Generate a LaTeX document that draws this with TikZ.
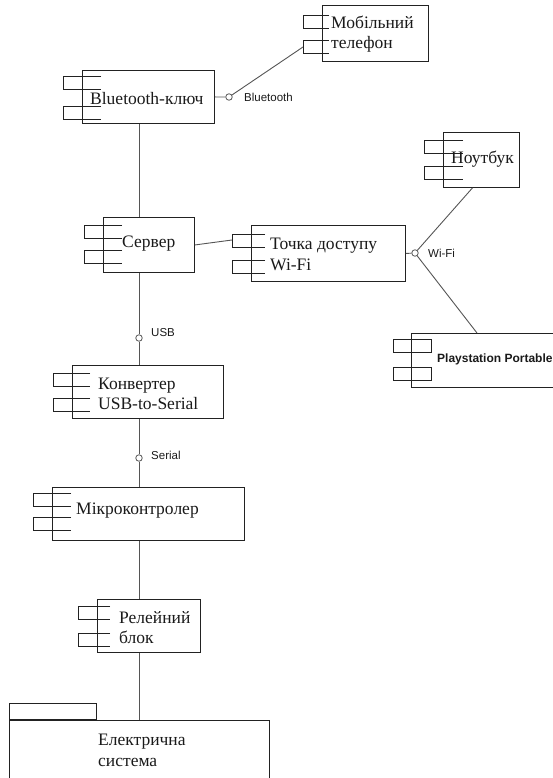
\documentclass[tikz,border=0pt]{standalone}
\usepackage{fontspec}
\setmainfont{Liberation Serif}
\newfontfamily\labelfont{Liberation Sans}
\usetikzlibrary{calc}

\definecolor{edge}{HTML}{222222}
\definecolor{wirecol}{HTML}{555555}
\definecolor{ink}{HTML}{1A1A1A}

\tikzset{
  box/.style={draw=edge, line width=0.9pt, fill=white, rectangle, inner sep=0pt, anchor=north west},
  tabline/.style={draw=edge, line width=0.9pt},
  wire/.style={draw=wirecol, line width=0.9pt},
  iface/.style={circle, draw=wirecol, line width=0.8pt, fill=white, minimum size=6.5pt, inner sep=0pt},
  ctext/.style={text=ink, anchor=west, align=left, inner sep=0pt, font=\fontsize{17.5}{20.5}\selectfont},
  lbl/.style={text=ink, anchor=west, inner sep=0pt, font=\labelfont\fontsize{11.5}{13}\selectfont},
}

% open component tabs: #1 node, #2 reach into the box, #3/#4 tab offsets from the top
\newcommand\comptabs[4]{%
  \draw[tabline] ($(#1.north west)+(#2,#3)$) -| ++({-19-#2},13) -- ++({19+#2},0);
  \draw[tabline] ($(#1.north west)+(#2,#4)$) -| ++({-19-#2},13) -- ++({19+#2},0);
}

\begin{document}
\begin{tikzpicture}[x=1pt, y=-1pt]
\useasboundingbox (0,0) rectangle (552,778);

% components
\node[box, minimum width=106, minimum height=56] (mob) at (322,5) {};
\comptabs{mob}{7}{10}{35}
\node[ctext] (mob-t) at (331,34) {Мобільний\\телефон};

\node[box, minimum width=132, minimum height=53] (bt) at (82,70) {};
\comptabs{bt}{19}{6}{36}
\node[ctext] (bt-t) at (90,98.5) {Bluetooth-ключ};

\node[box, minimum width=76, minimum height=55] (nb) at (443,132) {};
\comptabs{nb}{20}{8}{34}
\node[ctext] (nb-t) at (451,159.5) {Ноутбук};

\node[box, minimum width=91, minimum height=55] (srv) at (103,217) {};
\comptabs{srv}{19}{8}{33}
\node[ctext] (srv-t) at (122,243.5) {Сервер};

\node[box, minimum width=154, minimum height=56] (ap) at (251,225) {};
\comptabs{ap}{14}{9}{35}
\node[ctext] (ap-t) at (270,254.5) {Точка доступу\\Wi-Fi};

\node[box, minimum width=170, minimum height=54] (psp) at (411,333) {};
\draw[tabline] ($(psp.north west)+(-18,6)$) rectangle ++(38,13);
\draw[tabline] ($(psp.north west)+(-18,34)$) rectangle ++(38,13);
\node[text=ink, anchor=west, inner sep=0pt, font=\labelfont\bfseries\fontsize{12}{14}\selectfont] (psp-t) at (437,359) {Playstation Portable};

\node[box, minimum width=151, minimum height=53] (cnv) at (72,365) {};
\comptabs{cnv}{18}{8}{33}
\node[ctext] (cnv-t) at (98,394) {Конвертер\\USB-to-Serial};

\node[box, minimum width=192, minimum height=53] (mcu) at (52,487) {};
\comptabs{mcu}{19}{6}{30}
\node[ctext] (mcu-t) at (76,510.5) {Мікроконтролер};

\node[box, minimum width=103, minimum height=53] (rel) at (97,599) {};
\comptabs{rel}{13}{7}{34}
\node[ctext] (rel-t) at (119,627.5) {Релейний\\блок};

% package (its lower edge runs past the page)
\node[box, minimum width=260, minimum height=70] (el) at (9,720) {};
\node[box, anchor=south west, minimum width=87, minimum height=16] (el-tab) at (el.north west) {};
\node[ctext] (el-t) at (98,750.5) {Електрична\\система};

% connection points
\coordinate (col) at (139,0);
\coordinate (mob-in) at ($(mob.north west)+(-19,42)$);
\coordinate (ap-in) at ($(ap.north west)+(-19,15)$);
\node[iface] (c-bt) at (229,97) {};
\node[iface] (c-wifi) at (415,253) {};
\node[iface] (c-usb) at (139,338) {};
\node[iface] (c-ser) at (139,458) {};

% Bluetooth link
\draw[wire] (bt.east) -- (c-bt);
\draw[wire] (c-bt) -- (mob-in);
\node[lbl] (l-bt) at (244,97) {Bluetooth};

% server column
\draw[wire] (bt.south -| col) -- (srv.north -| col);
\draw[wire] (srv.south -| col) -- (c-usb);
\draw[wire] (c-usb) -- (cnv.north -| col);
\node[lbl] (l-usb) at (151,333) {USB};
\draw[wire] (cnv.south -| col) -- (c-ser);
\draw[wire] (c-ser) -- (mcu.north -| col);
\node[lbl] (l-ser) at (151,455) {Serial};
\draw[wire] (mcu.south -| col) -- (rel.north -| col);
\draw[wire] (rel.south -| col) -- (el.north -| col);

% Wi-Fi link
\draw[wire] (srv.east) -- (ap-in);
\draw[wire] (ap.east) -- (c-wifi);
\draw[wire] (c-wifi) -- ([xshift=-9pt]nb.south);
\draw[wire] (c-wifi) -- ($(psp.north west)+(66,0)$);
\node[lbl] (l-wifi) at (428,253) {Wi-Fi};
\end{tikzpicture}
\end{document}
